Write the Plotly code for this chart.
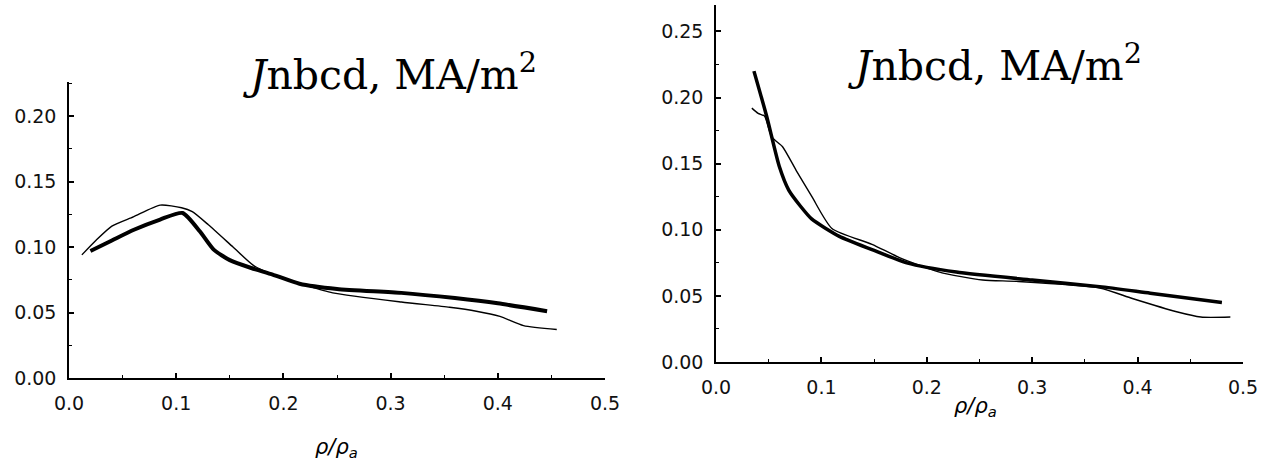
import plotly.graph_objects as go

W, H = 1274, 464

# ---- data ----
left_thick_x = [0.02, 0.04, 0.06, 0.085, 0.106, 0.122, 0.135, 0.15, 0.17, 0.19, 0.215, 0.25, 0.31, 0.36, 0.40, 0.446]
left_thick_y = [0.097, 0.105, 0.113, 0.121, 0.126, 0.112, 0.098, 0.090, 0.084, 0.079, 0.072, 0.068, 0.065, 0.061, 0.057, 0.051]

left_thin_x = [0.012, 0.025, 0.04, 0.06, 0.085, 0.105, 0.115, 0.13, 0.153, 0.172, 0.19, 0.22, 0.246, 0.31, 0.355, 0.38, 0.402, 0.424, 0.455]
left_thin_y = [0.094, 0.105, 0.116, 0.123, 0.132, 0.130, 0.127, 0.117, 0.100, 0.086, 0.079, 0.071, 0.065, 0.058, 0.054, 0.051, 0.047, 0.040, 0.037]

right_thick_x = [0.036, 0.048, 0.06, 0.069, 0.08, 0.091, 0.117, 0.148, 0.181, 0.228, 0.30, 0.364, 0.412, 0.48]
right_thick_y = [0.220, 0.186, 0.148, 0.130, 0.118, 0.108, 0.095, 0.085, 0.075, 0.068, 0.062, 0.057, 0.052, 0.045]

right_thin_x = [0.034, 0.040, 0.046, 0.053, 0.063, 0.076, 0.091, 0.110, 0.148, 0.174, 0.212, 0.253, 0.285, 0.364, 0.395, 0.437, 0.46, 0.488]
right_thin_y = [0.192, 0.188, 0.186, 0.170, 0.163, 0.145, 0.125, 0.101, 0.089, 0.079, 0.068, 0.062, 0.061, 0.056, 0.048, 0.038, 0.034, 0.034]

x_ticks = [0.0, 0.1, 0.2, 0.3, 0.4, 0.5]
left_y_ticks = [0.00, 0.05, 0.10, 0.15, 0.20]
right_y_ticks = [0.00, 0.05, 0.10, 0.15, 0.20, 0.25]

title_text = "<i>J</i>nbcd, MA/m<sup>2</sup>"
xlabel_text = "<i>ρ/ρ<sub>a</sub></i>"

# ---- figure ----
fig = go.Figure()

def px_x(p):
    return p / W

def px_y(p):
    return 1 - p / H

fig.add_trace(go.Scatter(x=left_thin_x, y=left_thin_y, mode="lines",
                         line=dict(color="black", width=1.4, shape="spline", smoothing=0.6),
                         xaxis="x", yaxis="y", showlegend=False, hoverinfo="skip"))
fig.add_trace(go.Scatter(x=left_thick_x, y=left_thick_y, mode="lines",
                         line=dict(color="black", width=4, shape="spline", smoothing=0.6),
                         xaxis="x", yaxis="y", showlegend=False, hoverinfo="skip"))
fig.add_trace(go.Scatter(x=right_thin_x, y=right_thin_y, mode="lines",
                         line=dict(color="black", width=1.4, shape="spline", smoothing=0.6),
                         xaxis="x2", yaxis="y2", showlegend=False, hoverinfo="skip"))
fig.add_trace(go.Scatter(x=right_thick_x, y=right_thick_y, mode="lines",
                         line=dict(color="black", width=3.5, shape="spline", smoothing=0.6),
                         xaxis="x2", yaxis="y2", showlegend=False, hoverinfo="skip"))

tickfont = dict(family="DejaVu Sans", size=19, color="#111")

def xax(domain, anchor):
    return dict(domain=domain, anchor=anchor, range=[0, 0.5],
                tickvals=x_ticks, tickformat=".1f",
                showline=True, linecolor="black", linewidth=2,
                ticks="inside", ticklen=5, tickwidth=1.5, tickcolor="black",
                minor=dict(ticks="inside", ticklen=3, tickwidth=1, tickcolor="black", dtick=0.05),
                showgrid=False, zeroline=False, tickfont=tickfont,
                ticklabelstandoff=7, fixedrange=True, automargin=False)

def yax(domain, anchor, rng, vals):
    return dict(domain=domain, anchor=anchor, range=rng,
                tickvals=vals, tickformat=".2f",
                showline=True, linecolor="black", linewidth=1.5,
                ticks="inside", ticklen=5, tickwidth=1.5, tickcolor="black",
                minor=dict(ticks="inside", ticklen=3, tickwidth=1, tickcolor="black", dtick=0.025),
                showgrid=False, zeroline=False, tickfont=tickfont,
                ticklabelstandoff=7, fixedrange=True, automargin=False)

fig.update_layout(
    width=W, height=H,
    margin=dict(l=0, r=0, t=0, b=0),
    paper_bgcolor="white", plot_bgcolor="white",
    xaxis=xax([px_x(69), px_x(605)], "y"),
    yaxis=yax([px_y(378), px_y(82)], "x", [0, 0.226], left_y_ticks),
    xaxis2=xax([px_x(716), px_x(1243)], "y2"),
    yaxis2=yax([px_y(362), px_y(5)], "x2", [0, 0.270], right_y_ticks),
    annotations=[
        dict(text=title_text, x=px_x(390), y=px_y(72), xref="paper", yref="paper",
             xanchor="center", yanchor="middle", showarrow=False,
             font=dict(family="DejaVu Serif", size=41, color="black")),
        dict(text=title_text, x=px_x(995), y=px_y(63), xref="paper", yref="paper",
             xanchor="center", yanchor="middle", showarrow=False,
             font=dict(family="DejaVu Serif", size=41, color="black")),
        dict(text=xlabel_text, x=px_x(336), y=px_y(448), xref="paper", yref="paper",
             xanchor="center", yanchor="middle", showarrow=False,
             font=dict(family="DejaVu Sans", size=21, color="black")),
        dict(text=xlabel_text, x=px_x(975), y=px_y(407), xref="paper", yref="paper",
             xanchor="center", yanchor="middle", showarrow=False,
             font=dict(family="DejaVu Sans", size=21, color="black")),
    ],
)

fig.write_html("out.html")
